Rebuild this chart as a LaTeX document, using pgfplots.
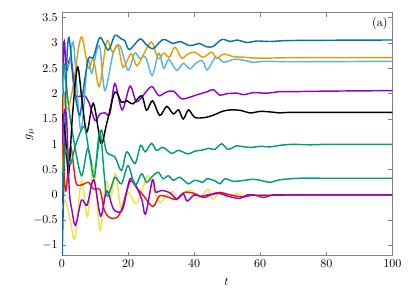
\documentclass[border=0pt]{standalone}
\usepackage{pgfplots}
\pgfplotsset{compat=1.18}
\definecolor{cpurple}{HTML}{9400D3}
\definecolor{cgreen}{HTML}{009E73}
\definecolor{csky}{HTML}{56B4E9}
\definecolor{corange}{HTML}{E69F00}
\definecolor{cyellow}{HTML}{F0E442}
\definecolor{cblue}{HTML}{0072B2}
\definecolor{cred}{HTML}{E51E10}
\begin{document}
\begin{tikzpicture}
\begin{axis}[name=ax,
  scale only axis, width=274.4pt, height=201.9pt,
  xmin=0, xmax=100, ymin=-1.2, ymax=3.6,
  xtick={0,20,40,60,80,100},
  ytick={-1,-0.5,0,0.5,1,1.5,2,2.5,3,3.5},
  tick align=inside,
  axis line style={gray},
  every tick/.style={gray},
  major tick length=3.5pt,
  xlabel={$t$}, ylabel={$g_\mu$},
  xlabel style={at={(axis description cs:0.498,-0.106)}, anchor=center},
  ylabel style={at={(axis description cs:-0.097,0.5)}, anchor=center},
  every axis plot/.append style={line width=1.2pt, smooth, tension=0.5},
  clip=true,
]
% purple (upper)
\addplot[cpurple] coordinates {(0,-0.95)(0.5,2.9)(1.4,2.46)(2.6,2.7)(3.9,2.0)(5.5,1.95)(7,1.95)(8.3,1.8)(10,1.47)(11.5,1.6)(13,1.62)(14.5,1.6)(16,2.2)(18.2,1.68)(20.6,2.15)(22.6,1.84)(25.6,2.05)(27.3,2.14)(29.3,1.96)(31.5,2.03)(33.7,2.05)(36.2,1.9)(38.7,1.93)(40.5,1.97)(44,2.04)(45.8,2.08)(47.8,1.97)(50,2.0)(53,2.01)(55,1.98)(58,2.02)(62,2.01)(66,2.04)(70,2.04)(80,2.05)(100,2.06)};
% green (upper)
\addplot[cgreen] coordinates {(0,0.0)(0.4,2.4)(0.9,2.45)(2,1.75)(3.5,1.1)(5.9,0.38)(7.8,0.92)(9.8,0.45)(11.8,1.28)(13.5,0.85)(16,0.75)(18,0.48)(19.6,0.85)(22.1,0.62)(23.8,0.98)(25.2,0.85)(27.1,1.02)(28.6,0.88)(30.6,0.94)(33.2,0.82)(35.2,0.88)(38.2,0.81)(40,0.86)(42.7,0.89)(44.5,0.92)(46.3,0.9)(48.3,1.01)(50.3,0.9)(52.8,0.97)(55,0.95)(57.4,0.94)(60,0.96)(63,0.95)(66,0.98)(70,1.0)(75,0.99)(80,1.0)(90,1.0)(100,1.0)};
% sky blue
\addplot[csky] coordinates {(0,2.0)(1,2.45)(2.3,2.6)(3.5,2.98)(5.7,1.27)(7.7,2.65)(9,2.4)(10.5,2.85)(11.5,2.9)(13,2.06)(15.5,2.8)(17.5,2.95)(20,2.46)(22,2.8)(23.5,2.7)(25.3,2.72)(27.3,2.36)(29.3,2.8)(30.8,2.5)(32.3,2.68)(34.7,2.46)(36.7,2.6)(38.7,2.49)(40.5,2.6)(42.5,2.65)(44,2.47)(46.5,2.72)(49,2.62)(52,2.68)(55,2.66)(58,2.62)(62,2.64)(70,2.63)(100,2.64)};
% orange
\addplot[corange] coordinates {(0,0.3)(0.6,1.95)(1.2,1.75)(2,1.72)(3.5,2.2)(5,2.9)(6.1,3.11)(8,2.5)(9.5,2.69)(11.3,2.14)(13.5,3.03)(15.3,2.82)(16.9,2.96)(18.5,2.52)(20.9,2.79)(22.6,2.55)(24.5,2.75)(27.1,3.02)(29.1,2.69)(30.8,2.8)(32.5,2.72)(34.2,2.92)(36.2,2.7)(38,2.78)(40.2,2.82)(42.7,2.72)(45.3,2.82)(46.8,2.7)(49,2.78)(52,2.73)(55,2.72)(60,2.7)(70,2.71)(100,2.71)};
% yellow
\addplot[cyellow] coordinates {(0,-0.3)(1,-0.1)(2.5,-0.5)(3.9,-0.86)(5.9,0.28)(7.7,-0.43)(9.5,0.57)(11.5,-0.7)(13.3,0.25)(14.8,-0.05)(16.2,0.42)(18,-0.31)(20,0.05)(22.6,-0.17)(25.9,0.38)(27.6,0.12)(29.6,-0.15)(31.7,0.0)(33.7,0.06)(34.7,-0.1)(36.5,0.0)(39.2,0.09)(40.5,-0.07)(42.5,0.0)(44.3,0.11)(45.6,-0.08)(47.5,0.02)(50,-0.03)(53,0.02)(56,-0.03)(60,0.0)(100,0.0)};
% dark blue
\addplot[cblue] coordinates {(0,-1.4)(0.8,1.0)(1.5,2.7)(2.1,3.11)(3,2.6)(4.2,1.9)(5.4,1.57)(6.5,2.1)(8,2.69)(9.5,2.72)(11.5,3.11)(14,2.86)(16,3.15)(18,3.08)(19,3.05)(20.4,2.87)(23.6,3.08)(25.5,2.97)(27.6,2.89)(30.6,3.07)(33.6,2.99)(35.7,3.03)(38.7,2.95)(41.7,2.99)(43.5,2.93)(45.7,2.93)(48.4,3.07)(51,3.03)(53,3.06)(56,3.01)(59,3.04)(63,3.03)(70,3.05)(100,3.06)};
% red
\addplot[cred] coordinates {(0,1.9)(0.5,0.6)(1.2,0.08)(2.6,0.95)(4.2,0.25)(6,0.2)(8,0.25)(9.5,0.12)(11.5,0.1)(12.8,-0.3)(14.5,-0.45)(16.5,-0.45)(18,-0.3)(19.5,0.05)(20.8,0.28)(22.5,0.15)(24.5,0.0)(27.5,-0.23)(29.5,-0.02)(32,-0.04)(34.5,-0.09)(37,0.05)(40,0.03)(43,-0.05)(46,0.03)(48,0.05)(51,0.0)(55,-0.04)(58,0.0)(61,-0.05)(64,0.0)(70,0.0)(100,0.0)};
% black
\addplot[black] coordinates {(0,1.6)(1,1.2)(2,0.42)(3.2,1.6)(4.7,2.53)(6,1.9)(7.5,1.24)(9.5,1.81)(11.8,1.02)(13.5,1.4)(16,2.03)(18,1.83)(19.6,1.86)(21.5,1.8)(24.1,1.96)(25.6,1.67)(27.4,1.86)(29.6,1.57)(31.7,1.75)(33.7,1.6)(35.3,1.68)(36.7,1.5)(38.3,1.68)(40.2,1.53)(43.3,1.53)(46,1.58)(48.5,1.65)(51,1.68)(54,1.67)(57,1.62)(60,1.65)(63,1.64)(66,1.62)(70,1.63)(100,1.63)};
% purple (lower)
\addplot[cpurple] coordinates {(0,1.0)(0.7,1.65)(1.4,1.5)(2.2,0.1)(3,-0.3)(4.1,-0.6)(5.9,-0.1)(7.6,-0.2)(9.6,0.3)(11.7,-0.42)(13.5,0.08)(15.5,-0.27)(17.2,-0.34)(18.5,-0.25)(20.6,0.32)(22.6,0.15)(24.2,-0.1)(25.3,-0.38)(27.4,0.3)(28.3,0.06)(30.2,0.09)(32.7,0.04)(34.7,-0.08)(36.7,0.02)(37.9,-0.12)(40,0.0)(42,-0.03)(44,0.0)(47.8,0.03)(50,-0.02)(53.8,-0.07)(56,0.0)(60,-0.01)(70,0.0)(100,0.0)};
% green (lower)
\addplot[cgreen] coordinates {(0,0.3)(1.2,0.9)(2.5,0.6)(4.2,1.0)(6.7,1.35)(8.3,0.8)(9.8,0.35)(11.5,1.25)(13.5,0.0)(16,0.35)(18,0.22)(20,0.58)(22.1,0.19)(24.1,0.42)(25.6,0.25)(27.1,0.35)(29.1,0.45)(30.6,0.32)(32.2,0.38)(33.7,0.29)(35.7,0.35)(38.2,0.22)(40.2,0.29)(42.7,0.25)(43.8,0.32)(46.3,0.28)(47.8,0.22)(49.3,0.32)(51.8,0.27)(55.4,0.29)(57.9,0.31)(60,0.29)(62.9,0.25)(66,0.3)(72,0.33)(80,0.33)(100,0.33)};
\node at (rel axis cs:0.962,0.954) {(a)};
\end{axis}
\pgfresetboundingbox
\useasboundingbox ([shift={(-51.5pt,-29pt)}]ax.south west) rectangle ([shift={(18.8pt,10.5pt)}]ax.north east);
\end{tikzpicture}
\end{document}
